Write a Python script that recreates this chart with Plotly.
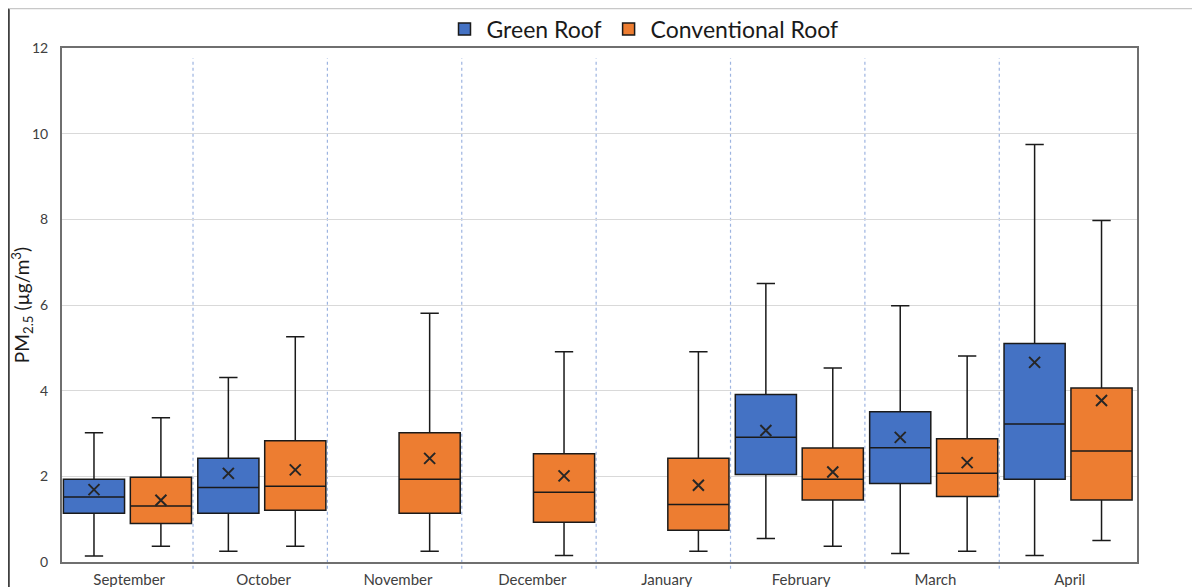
import plotly.graph_objects as go

months = ["September", "October", "November", "December", "January", "February", "March", "April"]

# Green roof (None = no data that month)
g_min = [0.14, 0.25, None, None, None, 0.55, 0.20, 0.15]
g_q1 = [1.14, 1.14, None, None, None, 2.04, 1.83, 1.93]
g_med = [1.52, 1.74, None, None, None, 2.91, 2.67, 3.22]
g_q3 = [1.93, 2.42, None, None, None, 3.91, 3.51, 5.10]
g_max = [3.02, 4.31, None, None, None, 6.50, 5.98, 9.75]
g_mean = [1.69, 2.07, None, None, None, 3.07, 2.91, 4.66]

# Conventional roof
c_min = [0.37, 0.37, 0.25, 0.15, 0.25, 0.37, 0.25, 0.50]
c_q1 = [0.90, 1.21, 1.14, 0.93, 0.74, 1.45, 1.53, 1.45]
c_med = [1.31, 1.77, 1.93, 1.63, 1.34, 1.93, 2.07, 2.59]
c_q3 = [1.98, 2.83, 3.02, 2.53, 2.42, 2.66, 2.88, 4.06]
c_max = [3.37, 5.26, 5.81, 4.91, 4.91, 4.53, 4.81, 7.97]
c_mean = [1.44, 2.15, 2.42, 2.01, 1.79, 2.10, 2.32, 3.77]

y_ticks = [0, 2, 4, 6, 8, 10, 12]

GREEN = "#4472C4"
ORANGE = "#ED7D31"
G_OFF = -0.262
C_OFF = 0.236
BOXW = 0.455

W, H = 1192, 579  # page body adds an 8px margin

fig = go.Figure()


def add_series(name, color, off, mn, q1, med, q3, mx, mean):
    idx = [i for i, v in enumerate(med) if v is not None]
    xs = [i + off for i in idx]
    fig.add_trace(go.Box(
        name=name,
        x=xs,
        lowerfence=[mn[i] for i in idx],
        q1=[q1[i] for i in idx],
        median=[med[i] for i in idx],
        q3=[q3[i] for i in idx],
        upperfence=[mx[i] for i in idx],
        width=BOXW,
        whiskerwidth=0.3,
        fillcolor=color,
        line=dict(color="#1a1a1a", width=1.5),
        marker=dict(color=color),
        boxpoints=False,
        hoverinfo="skip",
    ))
    fig.add_trace(go.Scatter(
        x=xs,
        y=[mean[i] for i in idx],
        mode="markers",
        marker=dict(symbol="x-thin", size=11, line=dict(width=2, color="#262626"), color="#262626"),
        showlegend=False,
        hoverinfo="skip",
    ))


add_series("Green Roof", GREEN, G_OFF, g_min, g_q1, g_med, g_q3, g_max, g_mean)
add_series("Conventional Roof", ORANGE, C_OFF, c_min, c_q1, c_med, c_q3, c_max, c_mean)

shapes = []
for i in range(len(months) - 1):
    shapes.append(dict(type="line", xref="x", yref="paper", x0=i + 0.475, x1=i + 0.475,
                       y0=-0.013, y1=0.98, line=dict(color="#9DB4E0", width=1.2, dash="dot"), layer="below"))
# outer frame of the picture
shapes.append(dict(type="line", xref="paper", yref="paper", x0=-0.0495, x1=-0.0495, y0=-0.1, y1=1.077,
                   line=dict(color="#404040", width=2)))
shapes.append(dict(type="line", xref="paper", yref="paper", x0=-0.0495, x1=1.06, y0=1.077, y1=1.077,
                   line=dict(color="#c8c8c8", width=1.5)))

fig.update_layout(
    width=W, height=H,
    margin=dict(l=54, r=63, t=40, b=25, autoexpand=False),
    paper_bgcolor="white", plot_bgcolor="white",
    font=dict(family="Lato, Open Sans, sans-serif", color="#404040"),
    showlegend=True,
    legend=dict(orientation="h", x=635 / W, xanchor="center", xref="container",
                y=1 - 21 / H, yanchor="middle", yref="container",
                font=dict(size=23, color="#1a1a1a"), itemwidth=34, bgcolor="rgba(0,0,0,0)"),
    shapes=shapes,
    xaxis=dict(
        range=[-0.5, len(months) - 0.5],
        tickmode="array", tickvals=list(range(len(months))), ticktext=months,
        showgrid=False, zeroline=False,
        showline=True, mirror=True, linecolor="#6f6f6f", linewidth=2,
        ticks="outside", ticklen=3, tickcolor="rgba(0,0,0,0)",
        tickfont=dict(size=15, color="#404040"),
    ),
    yaxis=dict(
        range=[0, 12], tickmode="array", tickvals=y_ticks,
        showgrid=True, gridcolor="#d9d9d9", gridwidth=1, zeroline=False,
        showline=True, mirror=True, linecolor="#6f6f6f", linewidth=2,
        ticks="outside", ticklen=9, tickcolor="rgba(0,0,0,0)",
        tickfont=dict(size=14, color="#404040"),
        title=dict(text="PM<sub>2.5</sub> (µg/m<sup>3</sup>)", font=dict(size=19, color="#1a1a1a"), standoff=8),
    ),
)

fig.write_html("out.html")
